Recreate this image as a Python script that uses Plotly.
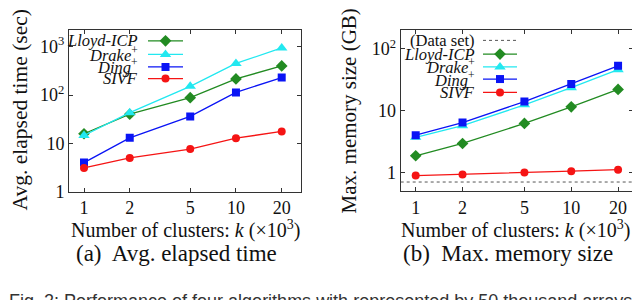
import plotly.graph_objects as go

# ---------------- data ----------------
k_values = [1, 2, 5, 10, 20]
k_ticktext = ["1", "2", "5", "10", "20"]

time_lloyd = [15.8, 40, 88, 215, 400]
time_drake = [14.5, 43, 151, 450, 940]
time_ding = [4.0, 13, 36, 113, 230]
time_sivf = [3.1, 5.0, 7.6, 12.8, 17.6]

mem_lloyd = [1.86, 2.94, 6.2, 11.5, 22]
mem_drake = [3.7, 5.7, 12.4, 23.5, 46]
mem_ding = [4.0, 6.4, 14, 27, 53]
mem_sivf = [0.89, 0.93, 1.0, 1.05, 1.11]
dataset_size = 0.7

time_tickvals = [1, 10, 100, 1000]
time_ticktext = ["1", "10", "10<sup>2</sup>", "10<sup>3</sup>"]
mem_tickvals = [1, 10, 100]
mem_ticktext = ["1", "10", "10<sup>2</sup>"]

series_names = ["<i>Lloyd-ICP</i>", "<i>Drake</i><sup>+</sup>", "<i>Ding</i><sup>+</sup>", "<i>SIVF</i>"]
series_colors = ["#228B22", "#22E8F0", "#0A14F5", "#F51414"]
series_symbols = ["diamond", "triangle-up", "square", "circle"]
series_sizes = [9, 10, 8, 8]

SERIF = "Liberation Serif"
W, H = 640, 300

fig = go.Figure()

time_data = [time_lloyd, time_drake, time_ding, time_sivf]
mem_data = [mem_lloyd, mem_drake, mem_ding, mem_sivf]

for i in range(4):
    fig.add_trace(go.Scatter(x=k_values, y=time_data[i], mode="lines+markers",
                             line=dict(color=series_colors[i], width=1.3),
                             marker=dict(symbol=series_symbols[i], size=series_sizes[i], color=series_colors[i]),
                             xaxis="x", yaxis="y", showlegend=False))
for i in range(4):
    fig.add_trace(go.Scatter(x=k_values, y=mem_data[i], mode="lines+markers",
                             line=dict(color=series_colors[i], width=1.3),
                             marker=dict(symbol=series_symbols[i], size=series_sizes[i], color=series_colors[i]),
                             xaxis="x2", yaxis="y2", showlegend=False))

# dataset dotted line across right panel
fig.add_shape(type="line", xref="x2 domain", yref="y2", x0=0, x1=1, y0=dataset_size, y1=dataset_size,
              line=dict(color="#555555", width=1, dash="dot"))

# ---------------- manual legends (text left, sample right) ----------------
leg_left_rows = [34, 48, 61, 73]
leg_right_rows = [47.7, 61, 73.5, 87.3]
left_text_x, left_line = 131, (140, 175)
right_text_x, right_line = 468, (475, 509)
LEG_SIZE = 16.5

for i in range(4):
    for rows, tx, ln in ((leg_left_rows, left_text_x, left_line), (leg_right_rows, right_text_x, right_line)):
        y = rows[i]
        fig.add_trace(go.Scatter(x=[ln[0], ln[1]], y=[y, y],
                                 mode="lines", line=dict(color=series_colors[i], width=1.3),
                                 xaxis="x3", yaxis="y3", showlegend=False, hoverinfo="skip"))
        fig.add_trace(go.Scatter(x=[(ln[0] + ln[1]) / 2], y=[y], mode="markers",
                                 marker=dict(symbol=series_symbols[i], size=series_sizes[i], color=series_colors[i]),
                                 xaxis="x3", yaxis="y3", showlegend=False, hoverinfo="skip"))
        fig.add_annotation(x=tx, y=y, xref="x3", yref="y3", text=series_names[i], showarrow=False,
                           xanchor="right", yanchor="middle", borderpad=0,
                           font=dict(family=SERIF, size=LEG_SIZE, color="#111"))

fig.add_trace(go.Scatter(x=[right_line[0], right_line[1]], y=[33.5, 33.5], mode="lines",
                         line=dict(color="#555555", width=1, dash="dot"),
                         xaxis="x3", yaxis="y3", showlegend=False, hoverinfo="skip"))
fig.add_annotation(x=right_text_x, y=33.5, xref="x3", yref="y3", text="(Data set)", showarrow=False,
                   xanchor="right", yanchor="middle", borderpad=0,
                   font=dict(family=SERIF, size=LEG_SIZE, color="#111"))

# ---------------- axes ----------------
frame = dict(showline=True, linecolor="#333333", linewidth=1, mirror="ticks", ticks="inside",
             ticklen=4, tickcolor="#333333", showgrid=False, zeroline=False,
             tickfont=dict(family=SERIF, size=18, color="#111"))

fig.update_layout(
    width=W, height=H, margin=dict(l=0, r=0, t=0, b=0),
    paper_bgcolor="white", plot_bgcolor="rgba(0,0,0,0)",
    xaxis=dict(type="log", domain=[61 / W, 293 / W], range=[-0.0987, 1.428],
               tickvals=k_values, ticktext=k_ticktext, anchor="y", **frame),
    yaxis=dict(type="log", domain=[1 - 190 / H, 1 - 23 / H], range=[0, 3.34],
               tickvals=time_tickvals, ticktext=time_ticktext, anchor="x", **frame),
    xaxis2=dict(type="log", domain=[392.7 / W, 625 / W], range=[-0.0964, 1.397],
                tickvals=k_values, ticktext=k_ticktext, anchor="y2", **frame),
    yaxis2=dict(type="log", domain=[1 - 189.3 / H, 1 - 23 / H], range=[-0.3, 2.3],
                tickvals=mem_tickvals, ticktext=mem_ticktext, anchor="x2", **frame),
    xaxis3=dict(domain=[0, 1], range=[0, W], visible=False, anchor="y3", fixedrange=True),
    yaxis3=dict(domain=[0, 1], range=[H, 0], visible=False, anchor="x3", fixedrange=True),
)

# ---------------- titles / captions ----------------
def ann(x, y, text, size=20, angle=0, family=SERIF, color="#111", xanchor="center", yanchor="middle"):
    fig.add_annotation(x=x, y=y, xref="x3", yref="y3", text=text, showarrow=False, textangle=angle,
                       xanchor=xanchor, yanchor=yanchor, borderpad=0,
                       font=dict(family=family, size=size, color=color))

ann(12, 106, "Avg. elapsed time (sec)", size=21.5, angle=-90)
ann(341, 107, "Max. memory size (GB)", size=21, angle=-90)
ann(177, 229, "Number of clusters: <i>k</i> (×10<sup>3</sup>)")
ann(507, 229, "Number of clusters: <i>k</i> (×10<sup>3</sup>)")
ann(168, 254, "(a)  Avg. elapsed time", size=23)
ann(500, 254, "(b)  Max. memory size", size=23)
ann(0, 292, "Fig. 2: Performance of four algorithms with represented by 50 thousand arrays in",
    size=18, family="Liberation Sans", color="#333", xanchor="left", yanchor="top")

fig.write_html("out.html")
